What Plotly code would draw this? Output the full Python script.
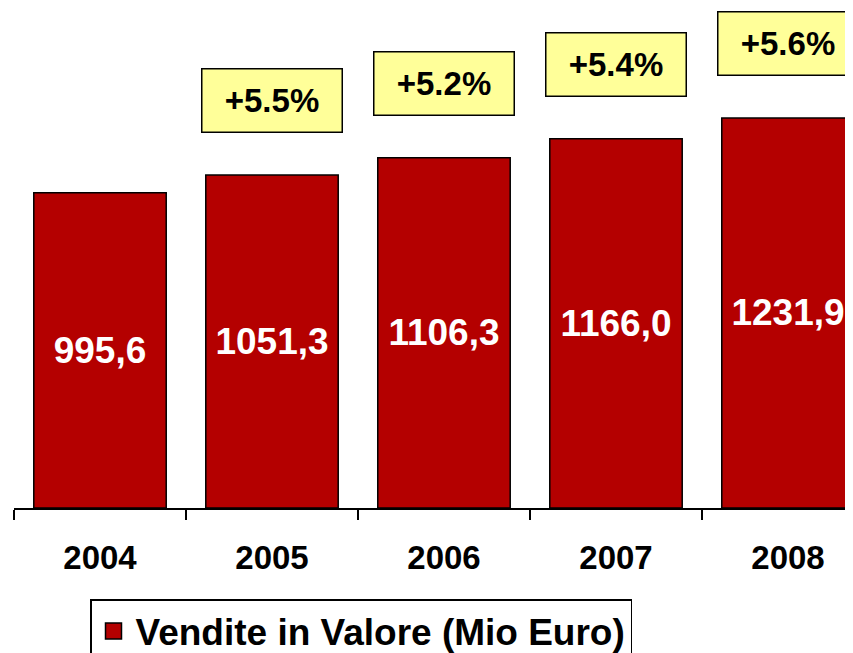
import plotly.graph_objects as go

years = ["2004", "2005", "2006", "2007", "2008"]
sales = [995.6, 1051.3, 1106.3, 1166.0, 1231.9]
growth_labels = ["", "+5.5%", "+5.2%", "+5.4%", "+5.6%"]
series_name = "Vendite in Valore (Mio Euro)"

FONT = "Liberation Sans, Arial, sans-serif"
BAR_RED = "#B40000"
BOX_YELLOW = "#FFFF99"

# the page body adds an 8px margin, so the figure is drawn 8px in from the corner
FIG_W, FIG_H = 845, 645
M_L, M_B = 6, 145
PLOT_W = FIG_W - M_L
PLOT_H = FIG_H - M_B

fig = go.Figure()
fig.add_trace(go.Bar(
    x=years,
    y=sales,
    name=series_name,
    width=0.77,
    marker=dict(color=BAR_RED, line=dict(color="black", width=1.5)),
    texttemplate="%{y:.1f}",
    textposition="inside",
    insidetextanchor="middle",
    textangle=0,
    textfont=dict(family=FONT, size=37, color="white", weight="bold"),
    cliponaxis=True,
    showlegend=False,
))
# legend entry (same series, larger square swatch)
fig.add_trace(go.Scatter(
    x=[None], y=[None], mode="markers", name=series_name,
    marker=dict(symbol="square", size=24, color=BAR_RED,
                line=dict(color="black", width=1.5)),
    showlegend=True, hoverinfo="skip",
))

for i, (val, lab) in enumerate(zip(sales, growth_labels)):
    if not lab:
        continue
    fig.add_annotation(
        x=i, y=val, xref="x", yref="y",
        text=lab, showarrow=False,
        yanchor="bottom", yshift=42,
        font=dict(family=FONT, size=33, color="black", weight="bold"),
        bgcolor=BOX_YELLOW, bordercolor="black", borderwidth=1.5,
        borderpad=2, width=135, height=58,
    )

fig.update_layout(
    width=FIG_W, height=FIG_H,
    margin=dict(l=M_L, r=0, t=0, b=M_B, autoexpand=False),
    paper_bgcolor="white", plot_bgcolor="white",
    separators=",.",
    showlegend=True,
    legend=dict(
        x=(82 - M_L) / PLOT_W, y=-91 / PLOT_H, xanchor="left", yanchor="top",
        font=dict(family=FONT, size=37, color="black", weight="bold"),
        bordercolor="black", borderwidth=1.5, bgcolor="white",
        itemsizing="trace", itemwidth=34,
    ),
    xaxis=dict(
        type="category",
        range=[-0.5, 4.378],
        showline=True, linecolor="black", linewidth=1.5,
        ticks="outside", ticklen=10, tickwidth=1.5, tickcolor="black",
        tickson="boundaries",
        ticklabelstandoff=20,
        tickfont=dict(family=FONT, size=33, color="black", weight="bold"),
        showgrid=False, zeroline=False, fixedrange=True,
    ),
    yaxis=dict(
        range=[0, 1579],
        visible=False, showgrid=False, zeroline=False,
    ),
)

fig.write_html("out.html")
